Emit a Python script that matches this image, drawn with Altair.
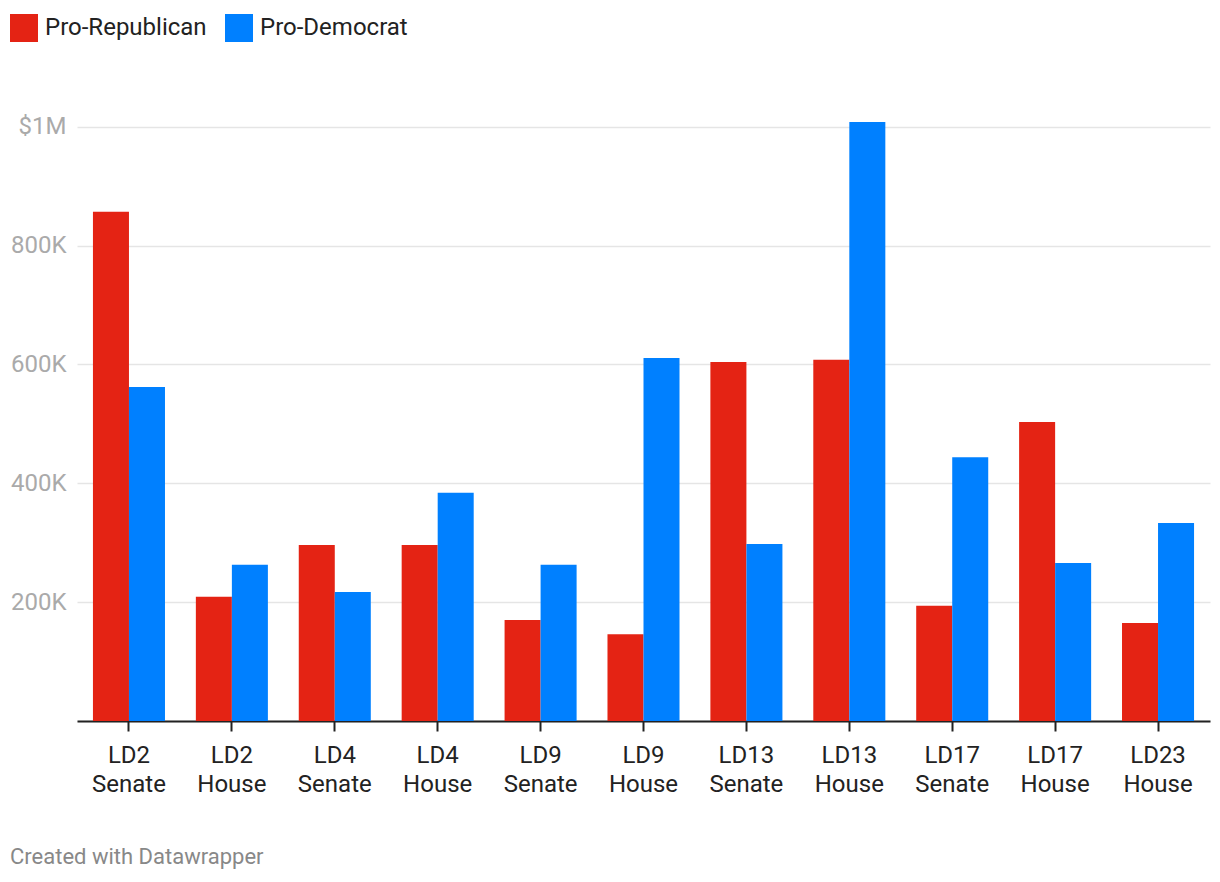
import altair as alt
import pandas as pd

districts = ["LD2 Senate", "LD2 House", "LD4 Senate", "LD4 House", "LD9 Senate",
             "LD9 House", "LD13 Senate", "LD13 House", "LD17 Senate", "LD17 House",
             "LD23 House"]
parties = ["Pro-Republican", "Pro-Democrat"]
pro_republican = [857000, 209000, 296000, 296000, 170000, 146000, 604000, 608000, 194000, 503000, 165000]
pro_democrat = [562000, 263000, 217000, 384000, 263000, 611000, 298000, 1008000, 444000, 266000, 333000]
colors = ["#e42314", "#0080ff"]

rows = []
for d, r, dm in zip(districts, pro_republican, pro_democrat):
    rows.append({"district": d, "party": parties[0], "value": r})
    rows.append({"district": d, "party": parties[1], "value": dm})
df = pd.DataFrame(rows)

bars = alt.Chart(df).mark_bar().encode(
    x=alt.X("district:N", sort=districts,
            scale=alt.Scale(paddingInner=0.3, paddingOuter=0.155),
            axis=alt.Axis(title=None, labelExpr="split(datum.label, ' ')", labelAngle=0,
                          labelFontSize=24, labelColor="#222", labelLineHeight=29,
                          tickSize=10, tickColor="#222", tickWidth=2,
                          domainColor="#222", domainWidth=2, labelPadding=12, grid=False)),
    xOffset=alt.XOffset("party:N", sort=parties, scale=alt.Scale(paddingInner=0, paddingOuter=0)),
    y=alt.Y("value:Q", scale=alt.Scale(domain=[0, 1050000], nice=False),
            axis=alt.Axis(title=None, values=[0, 200000, 400000, 600000, 800000, 1000000],
                          labelExpr="datum.value == 0 ? '' : (datum.value == 1000000 ? '$1M' : format(datum.value / 1000, 'd') + 'K')",
                          labelFontSize=24, labelColor="#aaaaaa", labelPadding=11,
                          domain=False, ticks=False, gridColor="#e5e5e5", gridWidth=1.5)),
    color=alt.Color("party:N", sort=parties,
                    scale=alt.Scale(domain=parties, range=colors),
                    legend=alt.Legend(title=None, orient="none", legendX=-67, legendY=-83,
                                      direction="horizontal", symbolType="square",
                                      symbolSize=784, symbolStrokeWidth=0, symbolOpacity=1,
                                      labelFontSize=24, labelColor="#222", labelOffset=7,
                                      labelLimit=400, columnPadding=18, padding=0)),
)

credit = alt.Chart(pd.DataFrame({"t": ["Created with Datawrapper"]})).mark_text(
    align="left", baseline="middle", fontSize=22, color="#888888"
).encode(text="t:N", x=alt.value(-67), y=alt.value(760))

chart = alt.layer(bars, credit).properties(
    width=1133, height=624,
    autosize=alt.AutoSizeParams(type="none"),
    padding={"left": 69, "top": 89, "right": 2, "bottom": 150},
).configure(font="Roboto").configure_view(strokeWidth=0, stroke="transparent")

chart.save("out.html", embed_options={"renderer": "svg", "actions": False})
